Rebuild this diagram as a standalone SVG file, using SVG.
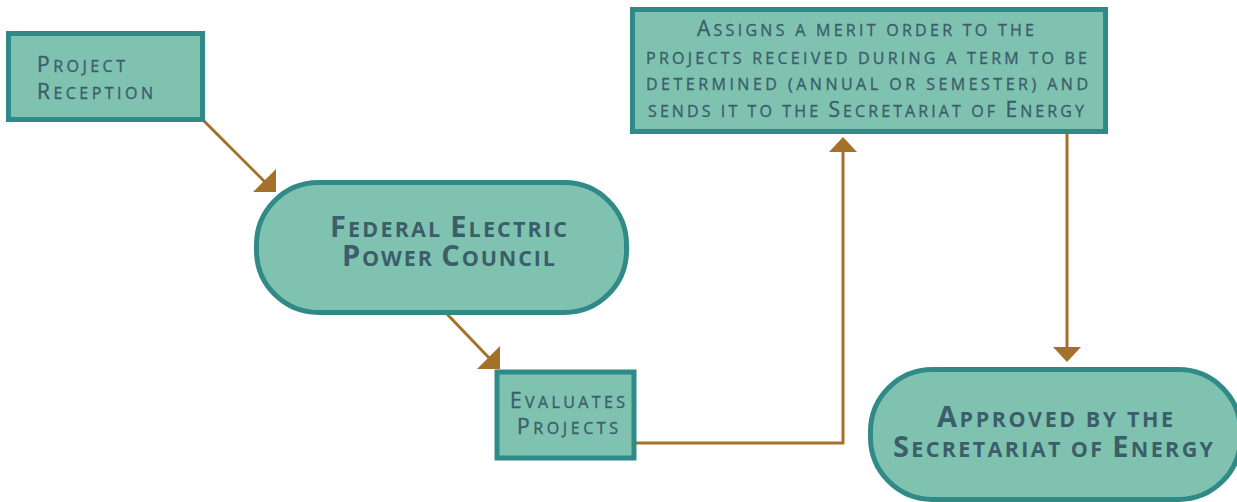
<svg xmlns="http://www.w3.org/2000/svg" width="1237" height="502" viewBox="0 0 1237 502">
  <style>
    .box { fill: #80c2b0; stroke: #2f8a88; stroke-width: 5; }
    .lbl { font-family: "Open Sans", "Liberation Sans", sans-serif; fill: #3b5e6b; }
    .norm { font-size: 21px; stroke: #3b5e6b; stroke-width: 0.35; }
    .norm .sc { font-size: 16px; text-transform: uppercase; }
    .bold { font-size: 29px; font-weight: bold; }
    .bold .sc { font-size: 21.5px; text-transform: uppercase; }
    .wire { fill: none; stroke: #a4712b; stroke-width: 3; }
    .head { fill: #a4712b; }
  </style>

  <!-- connectors -->
  <g id="connectors">
    <line class="wire" x1="203" y1="120" x2="268" y2="185"/>
    <polygon class="head" points="276,192 253,192 276,169"/>
    <line class="wire" x1="447" y1="314" x2="492" y2="361"/>
    <polygon class="head" points="500,369 477,369 500,346"/>
    <polyline class="wire" points="636,443 843,443 843,150"/>
    <polygon class="head" points="843,137 829,152 857,152"/>
    <line class="wire" x1="1067" y1="133" x2="1067" y2="349"/>
    <polygon class="head" points="1053,347 1081,347 1067,362"/>
  </g>

  <g id="project-reception">
    <rect class="box" x="8.5" y="33.5" width="194" height="86"/>
    <text class="lbl norm" x="37" y="72" textLength="88" lengthAdjust="spacing">P<tspan class="sc">roject</tspan></text>
    <text class="lbl norm" x="37" y="99" textLength="116" lengthAdjust="spacing">R<tspan class="sc">eception</tspan></text>
  </g>

  <g id="federal-council">
    <rect class="box" x="256.5" y="182.5" width="370" height="130" rx="62" ry="62"/>
    <text class="lbl bold" x="330" y="237" textLength="237" lengthAdjust="spacing">F<tspan class="sc">ederal </tspan>E<tspan class="sc">lectric</tspan></text>
    <text class="lbl bold" x="342" y="266" textLength="213" lengthAdjust="spacing">P<tspan class="sc">ower </tspan>C<tspan class="sc">ouncil</tspan></text>
  </g>

  <g id="evaluates">
    <rect class="box" x="497" y="372" width="137" height="86"/>
    <text class="lbl norm" x="510" y="408" textLength="115" lengthAdjust="spacing">E<tspan class="sc">valuates</tspan></text>
    <text class="lbl norm" x="517" y="434" textLength="101" lengthAdjust="spacing">P<tspan class="sc">rojects</tspan></text>
  </g>

  <g id="merit-order">
    <rect class="box" x="632.5" y="9.5" width="473" height="122"/>
    <text class="lbl norm" x="697" y="36" textLength="337" lengthAdjust="spacing">A<tspan class="sc">ssigns a merit order to the</tspan></text>
    <text class="lbl norm" x="646" y="64" textLength="441" lengthAdjust="spacing"><tspan class="sc">projects received during a term to be</tspan></text>
    <text class="lbl norm" x="646" y="90" textLength="442" lengthAdjust="spacing"><tspan class="sc">determined (annual or semester) and</tspan></text>
    <text class="lbl norm" x="648" y="117" textLength="436" lengthAdjust="spacing"><tspan class="sc">sends it to the </tspan>S<tspan class="sc">ecretariat of </tspan>E<tspan class="sc">nergy</tspan></text>
  </g>

  <g id="approved">
    <rect class="box" x="870.5" y="369.5" width="370" height="130" rx="62" ry="62"/>
    <text class="lbl bold" x="937" y="427" textLength="236" lengthAdjust="spacing">A<tspan class="sc">pproved by the</tspan></text>
    <text class="lbl bold" x="893" y="457" textLength="320" lengthAdjust="spacing">S<tspan class="sc">ecretariat of </tspan>E<tspan class="sc">nergy</tspan></text>
  </g>
</svg>
